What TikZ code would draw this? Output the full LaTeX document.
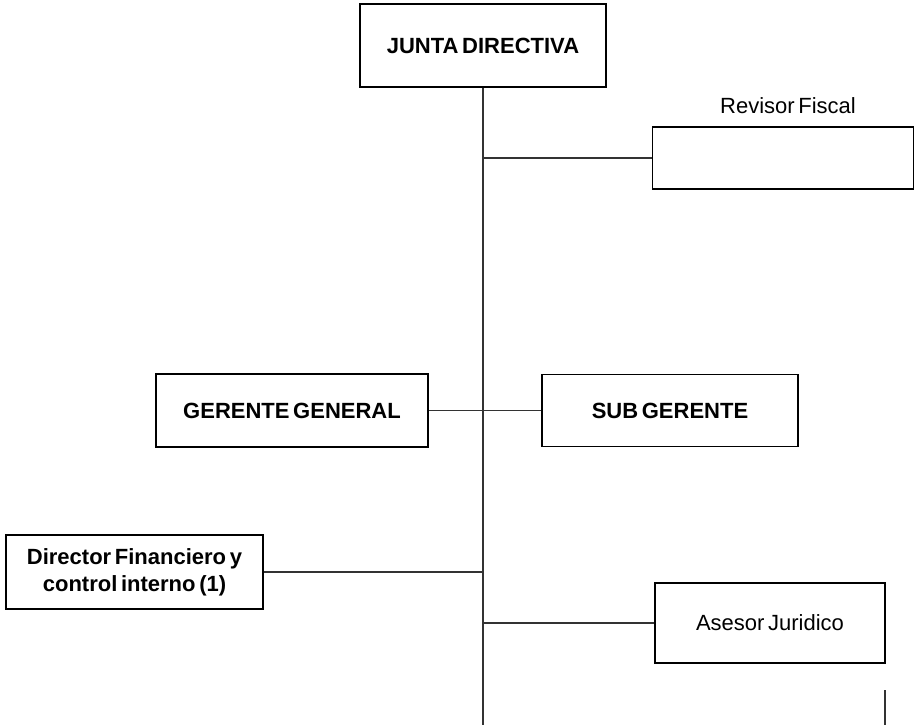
\documentclass[tikz,border=0pt]{standalone}
\usepackage{fontspec}
\setmainfont[WordSpace=0.6]{Liberation Sans}
\begin{document}
\begin{tikzpicture}[x=0.5pt,y=-0.5pt]
      \useasboundingbox (0,0) rectangle (916,725);

      \begin{scope}[every node/.style={rectangle,draw,line width=0.8pt,inner sep=0pt,align=center,
          font=\fontsize{11}{13.5}\selectfont\bfseries}]
        \node[minimum width=123pt,minimum height=41.5pt]   (jd)  at (483,45.5)  {JUNTA DIRECTIVA};
        \node[minimum width=130.5pt,minimum height=31pt]   (rf)  at (783,158)   {};
        \node[minimum width=136pt,minimum height=36.5pt]   (gg)  at (292,410.5) {GERENTE GENERAL};
        \node[minimum width=128pt,minimum height=36pt]     (sg)  at (670,410.5) {SUB GERENTE};
        \node[minimum width=128.5pt,minimum height=37pt]   (df)  at (134.5,572) {Director Financiero y\\control interno (1)};
        \node[minimum width=115pt,minimum height=40pt,font=\fontsize{11}{13.5}\selectfont] (aj) at (770,623) {Asesor Juridico};
      \end{scope}

      \node[font=\fontsize{11}{13.5}\selectfont] (rflbl) at (788,106) {Revisor Fiscal};

      \coordinate (bot) at (483,725);
      \coordinate (c1)  at (885,690);
      \coordinate (c2)  at (885,725);

      \begin{scope}[every edge/.style={draw,line width=0.7pt,black!80}]
        \path (jd.south) edge (bot);
        \path (rf.west)  edge (rf.west -| jd.south);
        \path (gg)       edge (sg);
        \path (df.east)  edge (df.east -| jd.south);
        \path (aj.west)  edge (aj.west -| jd.south);
        \path (c1)       edge (c2);
      \end{scope}

    \end{tikzpicture}
\end{document}
